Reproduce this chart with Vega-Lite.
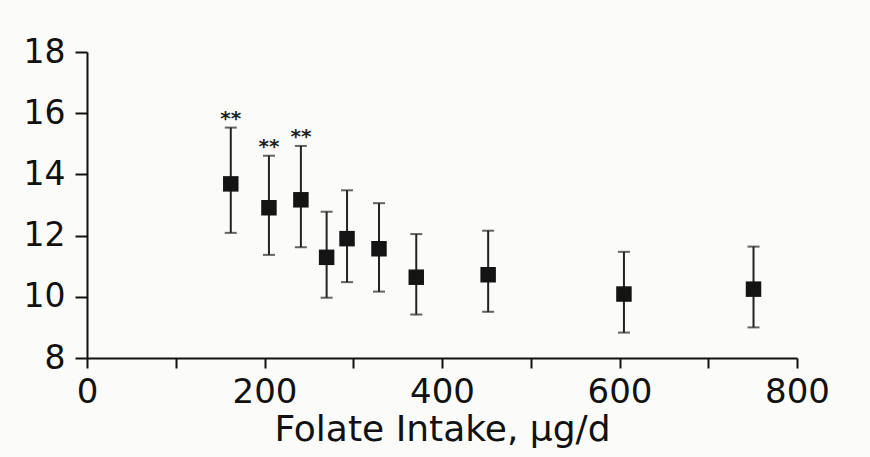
{
  "$schema": "https://vega.github.io/schema/vega-lite/v6.json",
  "autosize": {"type": "none"},
  "width": 710,
  "height": 306,
  "padding": {"left": 87, "top": 52, "right": 73, "bottom": 99},
  "background": "#fbfbfa",
  "config": {"view": {"stroke": null}, "font": "DejaVu Sans"},
  "data": {
    "values": [
      {"folate": 162, "mean": 13.69, "lo": 12.09, "hi": 15.53, "sig": "**"},
      {"folate": 205, "mean": 12.91, "lo": 11.37, "hi": 14.61, "sig": "**"},
      {"folate": 241, "mean": 13.17, "lo": 11.62, "hi": 14.93, "sig": "**"},
      {"folate": 270, "mean": 11.29, "lo": 9.97, "hi": 12.78, "sig": ""},
      {"folate": 293, "mean": 11.9, "lo": 10.48, "hi": 13.48, "sig": ""},
      {"folate": 329, "mean": 11.57, "lo": 10.17, "hi": 13.06, "sig": ""},
      {"folate": 371, "mean": 10.64, "lo": 9.42, "hi": 12.05, "sig": ""},
      {"folate": 452, "mean": 10.72, "lo": 9.51, "hi": 12.16, "sig": ""},
      {"folate": 605, "mean": 10.09, "lo": 8.83, "hi": 11.47, "sig": ""},
      {"folate": 751, "mean": 10.25, "lo": 9.0, "hi": 11.64, "sig": ""}
    ]
  },
  "encoding": {
    "x": {
      "field": "folate", "type": "quantitative",
      "scale": {"domain": [0, 800], "nice": false, "zero": false},
      "axis": {
        "title": "Folate Intake, μg/d",
        "values": [0, 100, 200, 300, 400, 500, 600, 700, 800],
        "labelExpr": "datum.value % 200 === 0 ? datum.label : ''",
        "grid": false,
        "domainColor": "#111", "domainWidth": 2,
        "tickColor": "#111", "tickWidth": 2, "tickSize": 10,
        "labelFontSize": 34, "labelColor": "#111", "labelPadding": 7,
        "labelFont": "DejaVu Sans", "labelFlush": false,
        "titleFontSize": 36, "titleFontWeight": "normal", "titleColor": "#111",
        "titleFont": "DejaVu Sans", "titlePadding": 3
      }
    }
  },
  "layer": [
    {
      "mark": {"type": "rule", "color": "#222", "strokeWidth": 2},
      "encoding": {
        "y": {"field": "lo", "type": "quantitative",
          "scale": {"domain": [8, 18], "nice": false, "zero": false},
          "axis": {
            "title": null,
            "values": [8, 10, 12, 14, 16, 18],
            "grid": false,
            "domainColor": "#111", "domainWidth": 2,
            "tickColor": "#111", "tickWidth": 2, "tickSize": 12,
            "labelFontSize": 33, "labelColor": "#111", "labelPadding": 10,
            "labelFont": "DejaVu Sans", "labelFlush": false
          }
        },
        "y2": {"field": "hi"}
      }
    },
    {
      "mark": {"type": "tick", "orient": "horizontal", "color": "#222", "size": 12, "thickness": 2},
      "encoding": {"y": {"field": "hi", "type": "quantitative"}}
    },
    {
      "mark": {"type": "tick", "orient": "horizontal", "color": "#222", "size": 12, "thickness": 2},
      "encoding": {"y": {"field": "lo", "type": "quantitative"}}
    },
    {
      "mark": {"type": "point", "shape": "square", "filled": true, "color": "#141414", "size": 240, "opacity": 1},
      "encoding": {"y": {"field": "mean", "type": "quantitative"}}
    },
    {
      "mark": {"type": "text", "fontSize": 20, "fontWeight": "bold", "dy": -9, "baseline": "middle", "align": "center", "color": "#222", "font": "DejaVu Sans"},
      "encoding": {
        "y": {"field": "hi", "type": "quantitative"},
        "text": {"field": "sig"}
      }
    }
  ]
}
